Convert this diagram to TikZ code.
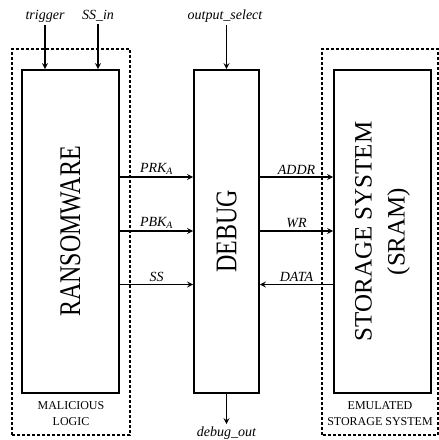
\documentclass[tikz,border=0pt]{standalone}
\usepackage{fontspec}
\setmainfont{Liberation Serif}
\tikzset{
  blk/.style={draw, line width=1.8pt, minimum height=323pt, inner sep=0pt},
  blktext/.style={rotate=90, align=center, inner sep=0pt},
  grp/.style={draw, line width=1.6pt, dash pattern=on 3pt off 2pt},
  sig/.style={font=\fontsize{14}{16}\selectfont\itshape, inner sep=2pt},
  grpcap/.style={align=center, font=\fontsize{12}{16}\selectfont, inner sep=0pt},
  wire/.style={->, line width=1.6pt},
}
\begin{document}
\begin{tikzpicture}[>=stealth, x=1pt, y=1pt]
\useasboundingbox (0,0) rectangle (439,440);
% dashed groups
\draw[grp] (12,5) rectangle (130,391);
\draw[grp] (322,5) rectangle (438,391);
% blocks
\node[blk, minimum width=97pt] (ransom) at (70.5,208.5) {};
\node[blk, minimum width=65pt] (debug) at (226.5,208.5) {};
\node[blk, minimum width=97pt] (sram) at (382.5,208.5) {};
\node[blktext, font=\fontsize{30}{36}\selectfont\addfontfeature{FakeStretch=0.8}] (ransomtxt) at (ransom) {RANSOMWARE};
\node[blktext, font=\fontsize{30}{36}\selectfont\addfontfeature{FakeStretch=0.8}] (debugtxt) at (debug) {DEBUG};
\node[blktext, font=\fontsize{25}{33}\selectfont] (sramtxt) at (sram) {STORAGE SYSTEM\\(SRAM)};
% group captions
\node[grpcap] (mal) at (71,26) {MALICIOUS\\LOGIC};
\node[grpcap] (emu) at (380,26) {EMULATED\\STORAGE SYSTEM};
% inputs and output
\node[sig, anchor=base] (trig) at (45,420) {trigger};
\node[sig, anchor=base] (ssin) at (98,420) {SS\_in};
\node[sig, anchor=base] (osel) at (225,420) {output\_select};
\node[sig, anchor=base] (dout) at (226.5,4) {debug\_out};
\draw[wire] (trig) -- (trig |- ransom.north);
\draw[wire] (ssin) -- (ssin |- ransom.north);
\draw[wire] (osel.south -| debug.north) -- (debug.north);
\draw[wire] (debug.south) -- (dout.north);
% signals
\draw[wire] ([yshift=54.5pt]ransom.east) -- node[sig, above] {PRK\textsubscript{A}} ([yshift=54.5pt]debug.west);
\draw[wire] ([yshift=0.5pt]ransom.east) -- node[sig, above] {PBK\textsubscript{A}} ([yshift=0.5pt]debug.west);
\draw[wire] ([yshift=-53pt]ransom.east) -- node[sig, above] {SS} ([yshift=-53pt]debug.west);
\draw[wire] ([yshift=54.5pt]debug.east) -- node[sig, above] {ADDR} ([yshift=54.5pt]sram.west);
\draw[wire] ([yshift=0.5pt]debug.east) -- node[sig, above] {WR} ([yshift=0.5pt]sram.west);
\draw[wire] ([yshift=-53pt]sram.west) -- node[sig, above] {DATA} ([yshift=-53pt]debug.east);
\end{tikzpicture}
\end{document}
